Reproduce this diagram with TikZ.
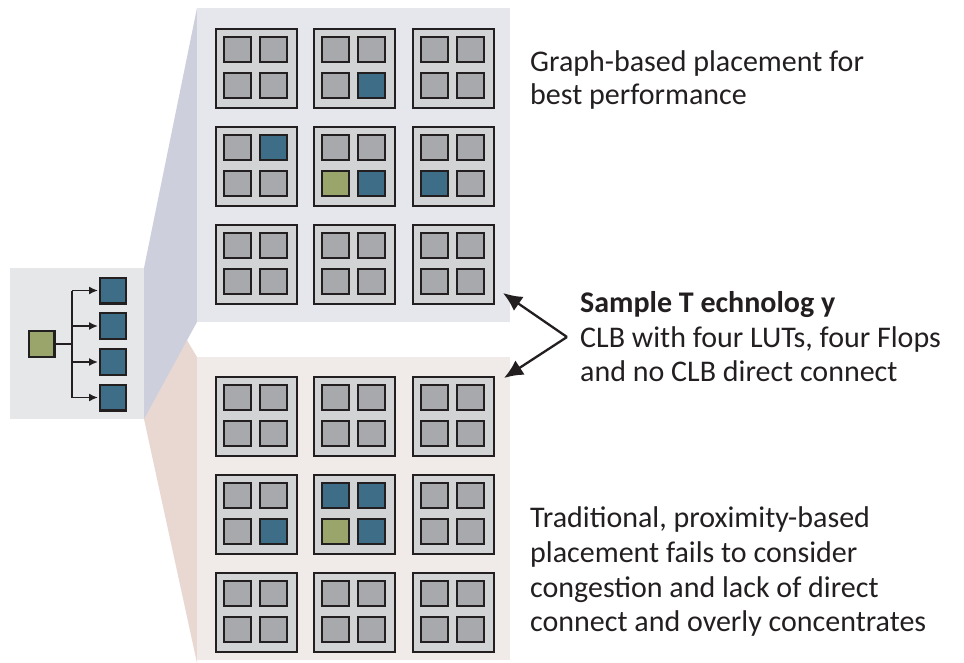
\documentclass[tikz,border=0pt]{standalone}
\usepackage{fontspec}
\setmainfont{Carlito}
\usetikzlibrary{arrows.meta}
\definecolor{ink}{RGB}{35,31,32}
\definecolor{clbgray}{RGB}{209,211,212}
\definecolor{lutgray}{RGB}{167,169,172}
\definecolor{lutblue}{RGB}{62,110,135}
\definecolor{lutgreen}{RGB}{154,165,107}
\definecolor{boxgray}{RGB}{230,231,232}
\definecolor{topbg}{RGB}{230,231,236}
\definecolor{botbg}{RGB}{240,235,232}
\definecolor{fanblue}{RGB}{205,208,220}
\definecolor{fanpink}{RGB}{233,216,210}
\begin{document}
\begin{tikzpicture}[x=1pt,y=-1pt,
    clb/.style={draw=ink,line width=2pt,fill=clbgray,minimum width=81pt,minimum height=79pt,inner sep=0pt,anchor=north west},
    lut/.style={draw=ink,line width=2.4pt,minimum width=26.5pt,minimum height=24.5pt,inner sep=0pt},
    cell/.style={draw=ink,line width=2.4pt,minimum size=25.6pt,inner sep=0pt},
    wire/.style={draw=ink,line width=1.6pt},
    pointer/.style={draw=ink,line width=2.3pt,-{Latex[length=19pt,width=17pt]}},
    note/.style={anchor=base west,inner sep=0pt,text=ink,font=\fontsize{30}{36}\selectfont}]
  \useasboundingbox (0,0) rectangle (964,663);

  % fan from the netlist to both placements
  \fill[fanpink] (144,268) -- (197,357) -- (197,663) -- (144,419) -- cycle;
  \fill[fanblue] (144,268) -- (197,8) -- (197,322) -- (144,419) -- cycle;
  \fill[boxgray] (10,268) rectangle (144,419);
  \fill[topbg] (197,8) rectangle (510,322);
  \fill[botbg] (197,357) rectangle (510,660);

  % netlist
  \node[cell,fill=lutgreen] (src) at (41.5,344) {};
  \foreach \i/\y in {1/290.5,2/326,3/362,4/397.5}
    \node[cell,fill=lutblue] (dst\i) at (113,\y) {};
  \coordinate (trunk) at (72,344);
  \draw[wire] (src.east) -- (trunk);
  \draw[wire] (dst1.west -| trunk) -- (dst4.west -| trunk);
  \foreach \i in {1,...,4}
    \draw[wire,-{Latex[length=9pt,width=8pt]},shorten >=1pt] (dst\i.west -| trunk) -- (dst\i.west);

  % CLB arrays: name/x/y/LUT colours (tl/tr/bl/br)
  \foreach \n/\x/\y/\ca/\cb/\cc/\cd in {
      t11/214/27/lutgray/lutgray/lutgray/lutgray,
      t12/312/27/lutgray/lutgray/lutgray/lutblue,
      t13/411/27/lutgray/lutgray/lutgray/lutgray,
      t21/214/125/lutgray/lutblue/lutgray/lutgray,
      t22/312/125/lutgray/lutgray/lutgreen/lutblue,
      t23/411/125/lutgray/lutgray/lutblue/lutgray,
      t31/214/223/lutgray/lutgray/lutgray/lutgray,
      t32/312/223/lutgray/lutgray/lutgray/lutgray,
      t33/411/223/lutgray/lutgray/lutgray/lutgray,
      b11/214/375/lutgray/lutgray/lutgray/lutgray,
      b12/312/375/lutgray/lutgray/lutgray/lutgray,
      b13/411/375/lutgray/lutgray/lutgray/lutgray,
      b21/214/473/lutgray/lutgray/lutgray/lutblue,
      b22/312/473/lutblue/lutblue/lutgreen/lutblue,
      b23/411/473/lutgray/lutgray/lutgray/lutgray,
      b31/214/571/lutgray/lutgray/lutgray/lutgray,
      b32/312/571/lutgray/lutgray/lutgray/lutgray,
      b33/411/571/lutgray/lutgray/lutgray/lutgray} {
    \node[clb] (\n) at ({\x+1},{\y+1}) {};
    \node[lut,fill=\ca] (\n-a) at ({\x+23.5},{\y+22.5}) {};
    \node[lut,fill=\cb] (\n-b) at ({\x+59.5},{\y+22.5}) {};
    \node[lut,fill=\cc] (\n-c) at ({\x+23.5},{\y+58.5}) {};
    \node[lut,fill=\cd] (\n-d) at ({\x+59.5},{\y+58.5}) {};
  }

  % pointers to the two panels
  \coordinate (fork) at (567,337);
  \coordinate (aimtop) at (503,293);
  \coordinate (aimbot) at (504,378);
  \draw[pointer] (fork) -- (aimtop);
  \draw[pointer] (fork) -- (aimbot);

  \node[note] (good1) at (530,72) {Graph-based placement for};
  \node[note] (good2) at (530,105) {best performance};
  \node[note,font=\fontsize{30}{36}\selectfont\bfseries] (tech) at (580,312) {Sample T echnolog y};
  \node[note] (tech1) at (580,347) {CLB with four LUTs, four Flops};
  \node[note] (tech2) at (580,381) {and no CLB direct connect};
  \node[note] (bad1) at (530,527.5) {Traditional, proximity-based};
  \node[note] (bad2) at (530,562) {placement fails to consider};
  \node[note] (bad3) at (530,597) {congestion and lack of direct};
  \node[note] (bad4) at (530,631) {connect and overly concentrates};
\end{tikzpicture}
\end{document}
